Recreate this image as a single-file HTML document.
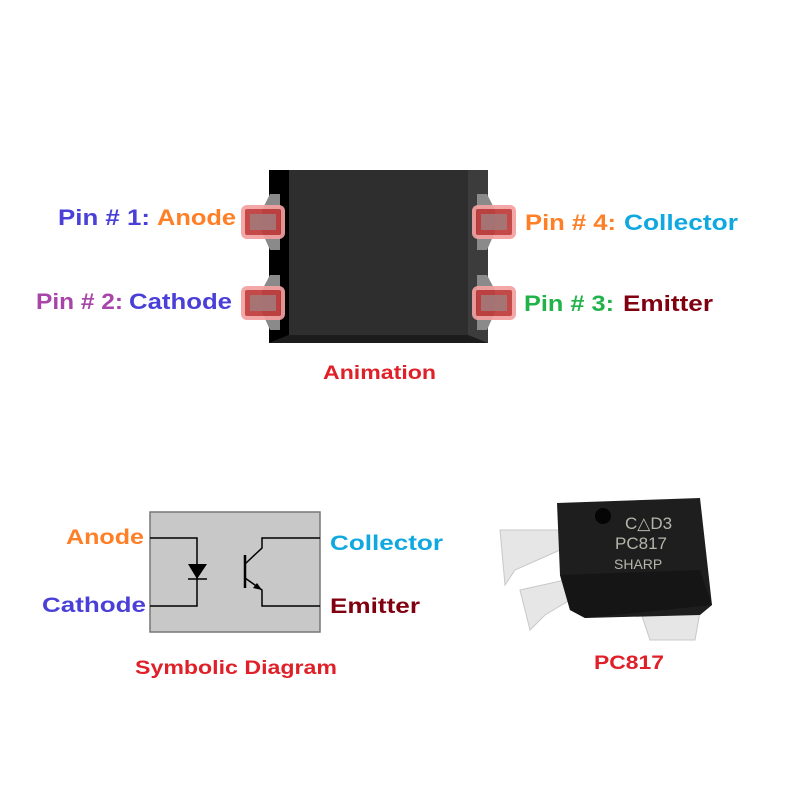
<!DOCTYPE html>
<html><head><style>
body{margin:0;background:#fff;}
svg text{font-family:"Liberation Sans",Arial,sans-serif;font-weight:bold;}
</style></head><body>
<svg width="800" height="800" viewBox="0 0 800 800" xmlns="http://www.w3.org/2000/svg">
<rect x="269" y="170" width="219" height="173" fill="#2e2e2e"/>
<polygon points="269,170 289,170 289,335 269,343" fill="#000"/>
<polygon points="468,170 488,170 488,343 468,335" fill="#3c3c3c"/>
<polygon points="289,335 468,335 488,343 269,343" fill="#1c1c1c"/>
<g fill="#8a8a8a">
<polygon points="270,194 280,194 280,250 270,250 262,232 262,210"/>
<polygon points="270,275 280,275 280,330 270,330 262,312 262,290"/>
<polygon points="477,194 487,194 495,210 495,232 487,250 477,250"/>
<polygon points="477,275 487,275 495,290 495,312 487,330 477,330"/>
</g>
<g fill="#c03a3a" stroke="#f3a0a0" stroke-width="4" opacity="0.92">
<rect x="243" y="207" width="40" height="30" rx="4"/>
<rect x="243" y="288" width="40" height="30" rx="4"/>
<rect x="474" y="207" width="40" height="30" rx="4"/>
<rect x="474" y="288" width="40" height="30" rx="4"/>
</g>
<g fill="#a08080" opacity="0.8">
<rect x="250" y="214" width="26" height="16"/>
<rect x="250" y="295" width="26" height="16"/>
<rect x="481" y="214" width="26" height="16"/>
<rect x="481" y="295" width="26" height="16"/>
</g>
<g font-size="22" lengthAdjust="spacingAndGlyphs">
<text x="58" y="225" fill="#4a40d8" textLength="92" lengthAdjust="spacingAndGlyphs">Pin # 1:</text>
<text x="157" y="225" fill="#ff7f27" textLength="79" lengthAdjust="spacingAndGlyphs">Anode</text>
<text x="36" y="309" fill="#a845a8" textLength="87" lengthAdjust="spacingAndGlyphs">Pin # 2:</text>
<text x="129" y="309" fill="#4a40d8" textLength="103" lengthAdjust="spacingAndGlyphs">Cathode</text>
<text x="525" y="230" fill="#ff7f27" textLength="91" lengthAdjust="spacingAndGlyphs">Pin # 4:</text>
<text x="624" y="230" fill="#10a8e0" textLength="114" lengthAdjust="spacingAndGlyphs">Collector</text>
<text x="524" y="311" fill="#22b24a" textLength="90" lengthAdjust="spacingAndGlyphs">Pin # 3:</text>
<text x="623" y="311" fill="#800010" textLength="90" lengthAdjust="spacingAndGlyphs">Emitter</text>
</g>
<text x="323" y="379" font-size="19" fill="#e02028" textLength="113" lengthAdjust="spacingAndGlyphs">Animation</text>
<rect x="150" y="512" width="170" height="120" fill="#c8c8c8" stroke="#777" stroke-width="1.5"/>
<g stroke="#000" stroke-width="1.5" fill="none">
<polyline points="150,538 197,538 197,606 150,606"/>
<polyline points="320,538 262,538 262,548 245,564"/>
<polyline points="245,578 262,590 262,606 320,606"/>
<line x1="245" y1="555" x2="245" y2="588" stroke-width="2.5"/>
<line x1="188" y1="579" x2="207" y2="579"/>
</g>
<polygon points="188,564 207,564 197,579" fill="#000"/>
<polygon points="262,590 253,588 257,583" fill="#000"/>
<g font-size="21">
<text x="66" y="544" fill="#ff7f27" textLength="78" lengthAdjust="spacingAndGlyphs">Anode</text>
<text x="42" y="612" fill="#4a40d8" textLength="104" lengthAdjust="spacingAndGlyphs">Cathode</text>
<text x="330" y="550" fill="#10a8e0" textLength="113" lengthAdjust="spacingAndGlyphs">Collector</text>
<text x="330" y="613" fill="#800010" textLength="90" lengthAdjust="spacingAndGlyphs">Emitter</text>
</g>
<text x="135" y="674" font-size="19" fill="#e02028" textLength="202" lengthAdjust="spacingAndGlyphs">Symbolic Diagram</text>
<g fill="#e6e6e6" stroke="#c8c8c8">
<polygon points="500,530 560,530 560,550 515,570 505,585"/>
<polygon points="520,590 565,580 570,600 545,615 530,630"/>
<polygon points="640,610 700,612 695,640 650,640"/>
</g>
<polygon points="557,503 700,498 712,605 700,615 585,618 570,610 560,575" fill="#1e1e1e"/>
<polygon points="560,575 700,570 712,605 585,618 570,610" fill="#151515"/>
<circle cx="603" cy="516" r="8" fill="#050505"/>
<text x="625" y="529" font-size="17" style="font-weight:normal" fill="#b5b5aa">C&#9651;D3</text>
<text x="615" y="549" font-size="17" style="font-weight:normal" fill="#b5b5aa">PC817</text>
<text x="614" y="569" font-size="14" style="font-weight:normal" fill="#b5b5aa">SHARP</text>
<text x="594" y="669" font-size="19" fill="#e02028" textLength="70" lengthAdjust="spacingAndGlyphs">PC817</text>
</svg>
</body></html>
